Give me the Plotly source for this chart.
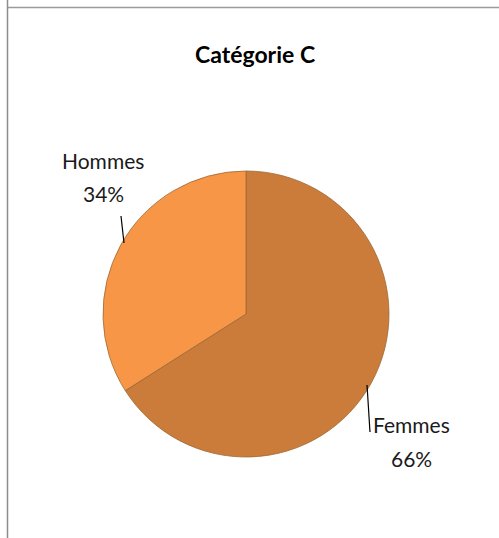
import plotly.graph_objects as go

W, H = 499, 538

# Data
categories = ["Femmes", "Hommes"]
values = [66, 34]
colors = ["#CB7B3A", "#F79646"]
title_text = "Catégorie C"

def px(x):
    return x / W

def py(y):
    return 1 - y / H

cx, cy, r = 246, 314, 143

fig = go.Figure()
fig.add_trace(go.Pie(
    labels=categories,
    values=values,
    sort=False,
    direction="clockwise",
    rotation=0,
    textinfo="none",
    hoverinfo="label+percent",
    marker=dict(colors=colors, line=dict(color="#9C6A35", width=0.8)),
    domain=dict(x=[px(cx - r), px(cx + r)], y=[py(cy + r), py(cy - r)]),
    showlegend=False,
))

total = sum(values)
pct = [round(v * 100 / total) for v in values]
# (x center, y of first line, y of second line)
label_pos = {"Femmes": (411, 424, 458), "Hommes": (103, 160, 193)}
lab_font = dict(family="Lato", size=21, color="#1a1a1a")
for cat, p in zip(categories, pct):
    lx, ly1, ly2 = label_pos[cat]
    for txt, yy in ((cat, ly1), (f"{p}%", ly2)):
        fig.add_annotation(
            x=px(lx), y=py(yy), xref="paper", yref="paper",
            text=txt, showarrow=False, font=lab_font,
            xanchor="center", yanchor="middle", align="center",
        )

# leader lines
leaders = [((121, 216), (124, 243)), ((367, 385), (370, 432))]
for (x0, y0), (x1, y1) in leaders:
    fig.add_shape(type="line", xref="paper", yref="paper",
                  x0=px(x0), y0=py(y0), x1=px(x1), y1=py(y1),
                  line=dict(color="#000000", width=1.2))

# frame lines
fig.add_shape(type="line", xref="paper", yref="paper",
              x0=px(7.5), y0=1, x1=px(7.5), y1=0,
              line=dict(color="#8C8C8C", width=1.5))
fig.add_shape(type="line", xref="paper", yref="paper",
              x0=px(7.5), y0=py(7.5), x1=1, y1=py(7.5),
              line=dict(color="#9A9A9A", width=1.5))

fig.add_annotation(
    x=px(254.5), y=py(54), xref="paper", yref="paper",
    text=f"<b>{title_text}</b>", showarrow=False,
    font=dict(family="Lato", size=23, color="#000000"),
    xanchor="center", yanchor="middle",
)

fig.update_layout(
    width=W, height=H,
    margin=dict(l=0, r=0, t=0, b=0),
    paper_bgcolor="white", plot_bgcolor="white",
)

fig.write_html("out.html",
               config={"displayModeBar": False},
               post_script="document.body.style.margin='0';document.body.style.overflow='hidden';")
